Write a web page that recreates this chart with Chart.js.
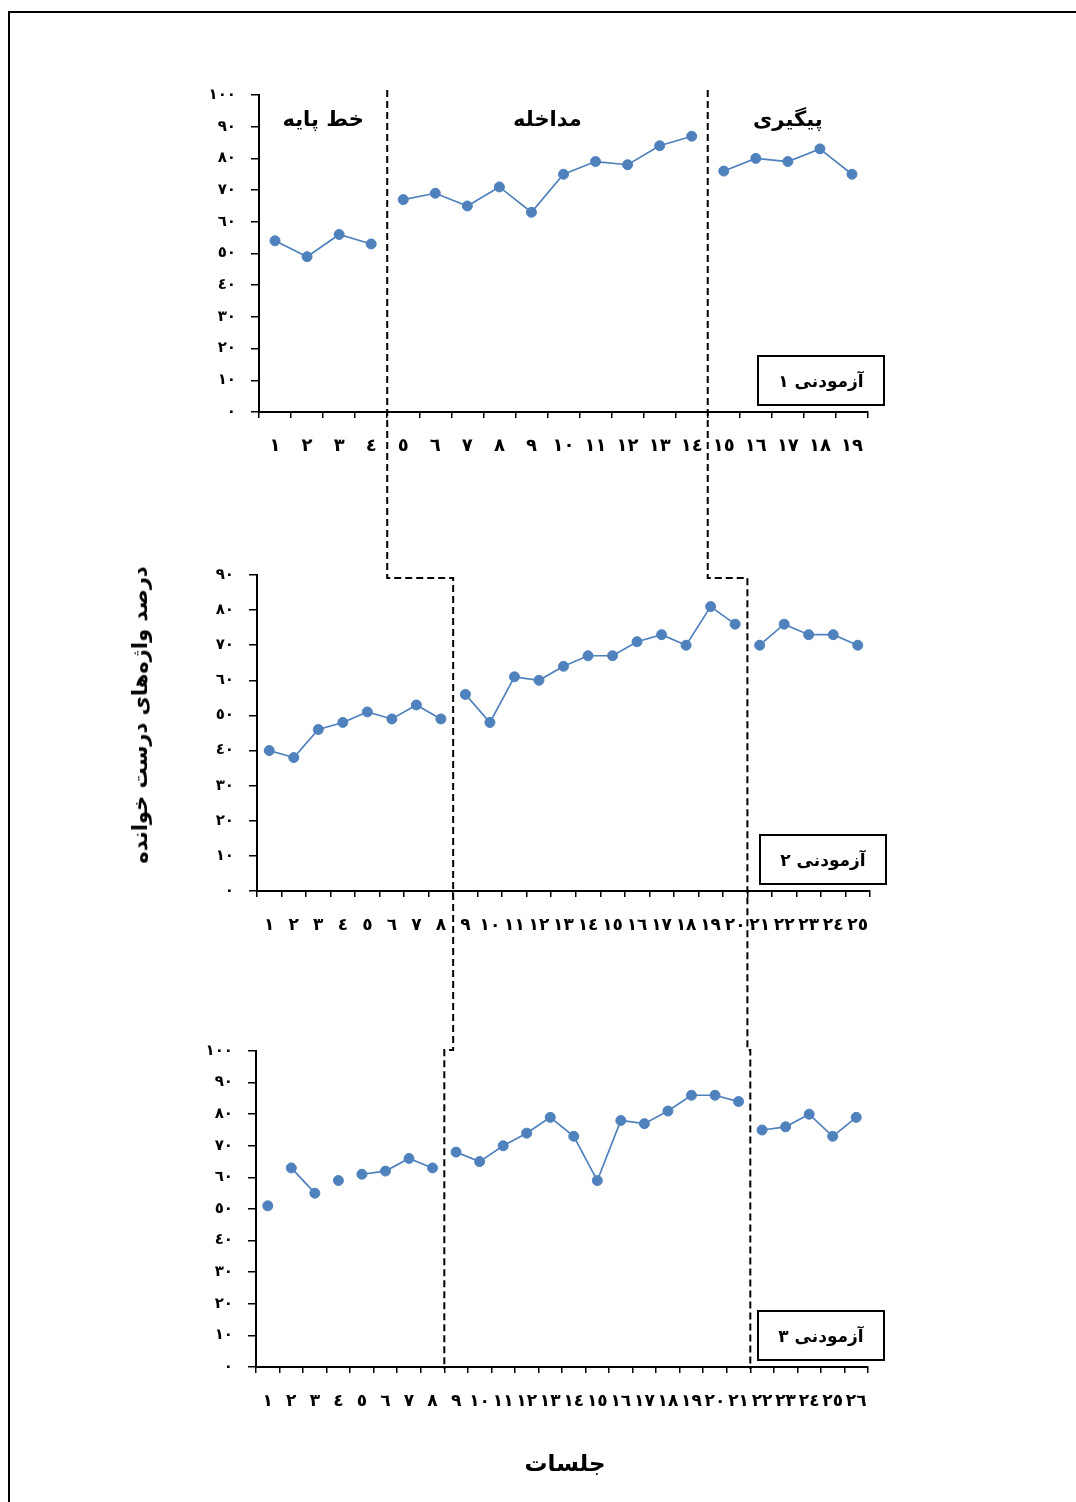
<!DOCTYPE html>
<html lang="fa">
<head>
<meta charset="utf-8">
<title>درصد واژه‌های درست خوانده</title>
<script src="https://cdn.jsdelivr.net/npm/chart.js@4.4.1/dist/chart.umd.min.js"></script>
<style>
  html, body { margin: 0; padding: 0; background: #fff; }
  body { width: 1076px; height: 1502px; position: relative; overflow: hidden; font-family: 'DejaVu Sans', sans-serif; }
  #frame { position: absolute; left: 8px; top: 11px; width: 1100px; height: 1540px; border: 2px solid #000; box-sizing: border-box; }
  canvas { position: absolute; left: 0; }
  #overlay { top: 0; pointer-events: none; }
  .title { position: absolute; white-space: nowrap; font-weight: bold; direction: rtl; color: #000; }
  #yTitle { left: 140px; top: 715px; font-size: 21px; transform: translate(-50%, -50%) rotate(-90deg); }
  #xTitle { left: 565px; top: 1463px; font-size: 23px; transform: translate(-50%, -50%); }
</style>
</head>
<body>
<div id="frame"></div>
<canvas id="chart1" width="1076" height="480" style="top:0px"></canvas>
<canvas id="chart2" width="1076" height="490" style="top:480px"></canvas>
<canvas id="chart3" width="1076" height="532" style="top:970px"></canvas>
<canvas id="overlay" width="1076" height="1502"></canvas>
<div id="yTitle" class="title">درصد واژه‌های درست خوانده</div>
<div id="xTitle" class="title">جلسات</div>

<script>
// session labels (Arabic-Indic digits)
const sessions1 = ['١','٢','٣','٤','٥','٦','٧','٨','٩','١٠','١١','١٢','١٣','١٤','١٥','١٦','١٧','١٨','١٩'];
const sessions2 = ['١','٢','٣','٤','٥','٦','٧','٨','٩','١٠','١١','١٢','١٣','١٤','١٥','١٦','١٧','١٨','١٩','٢٠','٢١','٢٢','٢٣','٢٤','٢٥'];
const sessions3 = ['١','٢','٣','٤','٥','٦','٧','٨','٩','١٠','١١','١٢','١٣','١٤','١٥','١٦','١٧','١٨','١٩','٢٠','٢١','٢٢','٢٣','٢٤','٢٥','٢٦'];

// percent of words read correctly
const subject1 = [54, 49, 56, 53, 67, 69, 65, 71, 63, 75, 79, 78, 84, 87, 76, 80, 79, 83, 75];
const subject2 = [40, 38, 46, 48, 51, 49, 53, 49, 56, 48, 61, 60, 64, 67, 67, 71, 73, 70, 81, 76, 70, 76, 73, 73, 70];
const subject3 = [51, 63, 55, 59, 61, 62, 66, 63, 68, 65, 70, 74, 79, 73, 59, 78, 77, 81, 86, 86, 84, 75, 76, 80, 73, 79];

// last session of baseline / intervention
const phaseEnds1 = [4, 14];
const phaseEnds2 = [8, 20];
const phaseEnds3 = [8, 21];

// line is not drawn after these sessions
const breaks1 = [4, 14];
const breaks2 = [8, 20];
const breaks3 = [1, 3, 4, 8, 21];

const yTicks100 = ['٠','١٠','٢٠','٣٠','٤٠','٥٠','٦٠','٧٠','٨٠','٩٠','١٠٠'];
const yTicks90 = ['٠','١٠','٢٠','٣٠','٤٠','٥٠','٦٠','٧٠','٨٠','٩٠'];

const phaseNames = ['خط پایه', 'مداخله', 'پیگیری'];
const subjectNames = ['آزمودنی ١', 'آزمودنی ٢', 'آزمودنی ٣'];

const BLUE = '#4F81BD';
const FONT = "'DejaVu Sans', sans-serif";
const Y_W = 60;   // fixed y axis width
const X_H = 50;   // fixed x axis height

function boundaryX(chart, n) {
    const x = chart.scales.x;
    return (x.getPixelForValue(n - 1) + x.getPixelForValue(n)) / 2;
}

// draws the subject box and (optionally) the phase names
function panelPlugin(boxText, phaseEnds, showPhases) {
    return {
        id: 'panel',
        afterDraw(chart) {
            const ctx = chart.ctx;
            const a = chart.chartArea;
            ctx.save();
            // subject box
            const bx = a.right - 110, by = a.bottom - 56, bw = 126, bh = 49;
            ctx.fillStyle = '#fff';
            ctx.fillRect(bx, by, bw, bh);
            ctx.strokeStyle = '#000';
            ctx.lineWidth = 2;
            ctx.strokeRect(bx, by, bw, bh);
            ctx.fillStyle = '#000';
            ctx.direction = 'rtl';
            ctx.textAlign = 'center';
            ctx.textBaseline = 'middle';
            ctx.font = 'bold 17px ' + FONT;
            ctx.fillText(boxText, bx + bw / 2, by + bh / 2 + 2);

            if (showPhases) {
                const x = chart.scales.x;
                const n = chart.data.labels.length;
                const starts = [1, phaseEnds[0] + 1, phaseEnds[1] + 1];
                const ends = [phaseEnds[0], phaseEnds[1], n];
                ctx.font = 'bold 21px ' + FONT;
                for (let i = 0; i < 3; i++) {
                    const cx = (x.getPixelForValue(starts[i] - 1) + x.getPixelForValue(ends[i] - 1)) / 2;
                    ctx.fillText(phaseNames[i], cx, a.top + 26);
                }
            }
            ctx.restore();
        }
    };
}

function buildChart(id, labels, values, breaks, yMax, yLabels, area, canvasH, boxText, phaseEnds, showPhases, xFont) {
    const ctx = document.getElementById(id).getContext('2d');
    return new Chart(ctx, {
        type: 'line',
        data: {
            labels: labels,
            datasets: [{
                data: values,
                borderColor: BLUE,
                backgroundColor: BLUE,
                borderWidth: 1.7,
                pointRadius: 5,
                pointBorderWidth: 1,
                pointBackgroundColor: BLUE,
                pointBorderColor: BLUE,
                tension: 0,
                fill: false,
                segment: {
                    borderColor: c => breaks.includes(c.p0DataIndex + 1) ? 'rgba(0,0,0,0)' : BLUE
                }
            }]
        },
        options: {
            responsive: false,
            animation: false,
            layout: {
                padding: {
                    top: area.top,
                    left: area.left - Y_W,
                    right: 1076 - area.right,
                    bottom: canvasH - area.bottom - X_H
                }
            },
            scales: {
                x: {
                    offset: true,
                    grid: { offset: true, drawOnChartArea: false, drawTicks: true, tickLength: 6, color: '#000', lineWidth: 1.5 },
                    border: { display: true, color: '#000', width: 2 },
                    ticks: { autoSkip: false, maxRotation: 0, minRotation: 0, padding: 18, color: '#000',
                             font: { family: FONT, size: xFont, weight: 'bold' } },
                    afterFit: s => { s.height = X_H; }
                },
                y: {
                    min: 0,
                    max: yMax,
                    grid: { drawOnChartArea: false, drawTicks: true, tickLength: 8, color: '#000', lineWidth: 1.5 },
                    border: { display: true, color: '#000', width: 2 },
                    ticks: { stepSize: 10, padding: 15, color: '#000',
                             font: { family: FONT, size: 15, weight: 'bold' },
                             callback: (v, i) => yLabels[i] },
                    afterFit: s => { s.width = Y_W; }
                }
            },
            plugins: {
                legend: { display: false },
                tooltip: { enabled: false }
            }
        },
        plugins: [panelPlugin(boxText, phaseEnds, showPhases)]
    });
}

const chart1 = buildChart('chart1', sessions1, subject1, breaks1, 100, yTicks100,
    { top: 95, left: 259, right: 868, bottom: 412 }, 480, subjectNames[0], phaseEnds1, true, 18);
const chart2 = buildChart('chart2', sessions2, subject2, breaks2, 90, yTicks90,
    { top: 95, left: 257, right: 870, bottom: 411 }, 490, subjectNames[1], phaseEnds2, false, 17);
const chart3 = buildChart('chart3', sessions3, subject3, breaks3, 100, yTicks100,
    { top: 81, left: 256, right: 868, bottom: 397 }, 532, subjectNames[2], phaseEnds3, false, 17);

// dashed phase-change lines running through all three panels
const o1 = 0, o2 = 480, o3 = 970;
const oc = document.getElementById('overlay').getContext('2d');
oc.strokeStyle = '#000';
oc.lineWidth = 2;
oc.setLineDash([7, 4]);

for (let k = 0; k < 2; k++) {
    const xa = boundaryX(chart1, phaseEnds1[k]);
    const xb = boundaryX(chart2, phaseEnds2[k]);
    const xc = boundaryX(chart3, phaseEnds3[k]);
    const yTop = o1 + chart1.chartArea.top - 5;
    const yH1 = o2 + chart2.chartArea.top + 3;
    const yH2 = o3 + chart3.chartArea.top - 1;
    const yEnd = o3 + chart3.chartArea.bottom + 2;
    oc.beginPath();
    oc.moveTo(xa, yTop);
    oc.lineTo(xa, yH1);
    oc.lineTo(xb, yH1);
    oc.lineTo(xb, yH2);
    oc.lineTo(xc, yH2);
    oc.lineTo(xc, yEnd);
    oc.stroke();
}
</script>
</body>
</html>
